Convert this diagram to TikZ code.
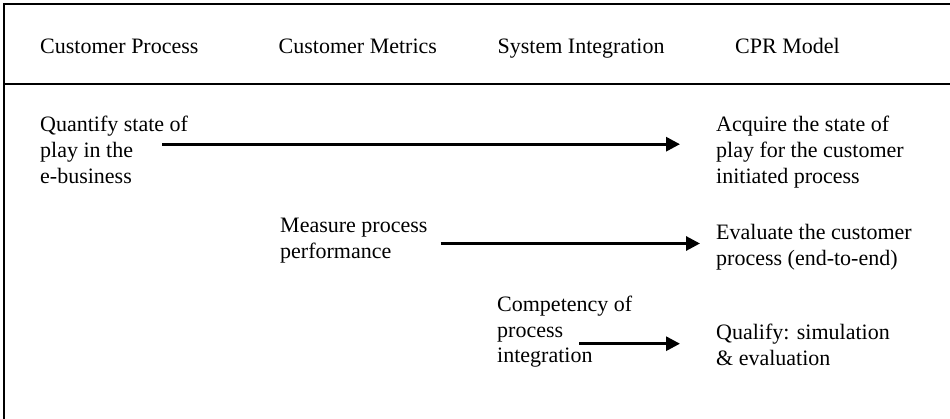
\documentclass[tikz,border=0pt]{standalone}
\usepackage{fontspec}
\setmainfont{Liberation Serif}
\usetikzlibrary{arrows.meta}

\begin{document}
\begin{tikzpicture}[x=1pt,y=-1pt,
  frame/.style={line width=2pt},
  head/.style={anchor=base west,inner sep=0pt,font=\fontsize{22}{25.6}\selectfont},
  txt/.style={anchor=base west,inner sep=0pt,align=left,font=\fontsize{22}{25.6}\selectfont},
  flow/.style={line width=3pt,-{Triangle[length=14pt,width=14pt]}}]
\useasboundingbox (0,0) rectangle (950,419);

% table frame: top rule, left rule and header separator
\draw[frame] (4.3,419) -- (4.3,4.3) -- (951,4.3);
\draw[frame] (4.3,84.2) -- (951,84.2);

% column headings
\node[head] (h1) at (40,53.3)  {Customer Process};
\node[head] (h2) at (278.5,53.3) {Customer Metrics};
\node[head] (h3) at (497.5,53.3) {System Integration};
\node[head] (h4) at (735,53.3) {CPR Model};

% process steps (placed by the baseline of their last line)
\node[txt] (quant) at (40,183.1) {Quantify state of\\play in the\\e-business};
\node[txt] (acq)   at (716,183.1) {Acquire the state of\\play for the customer\\initiated process};

\node[txt] (meas)  at (280,258.3) {Measure process\\performance};
\node[txt] (eval)  at (716,265.6) {Evaluate the customer\\process (end-to-end)};

\node[txt] (comp)  at (497,362.9) {Competency of\\process\\integration};
\node[txt] (qual)  at (716,365.1) {Qualify: simulation\\\& evaluation};

% connectors
\coordinate (s1) at (162,144.2);
\coordinate (s2) at (440.7,243.5);
\coordinate (s3) at (579,343.7);
\draw[flow] (s1) -- ([xshift=-36pt]s1 -| acq.west);
\draw[flow] (s2) -- ([xshift=-16pt]s2 -| eval.west);
\draw[flow] (s3) -- ([xshift=-36pt]s3 -| qual.west);
\end{tikzpicture}
\end{document}
